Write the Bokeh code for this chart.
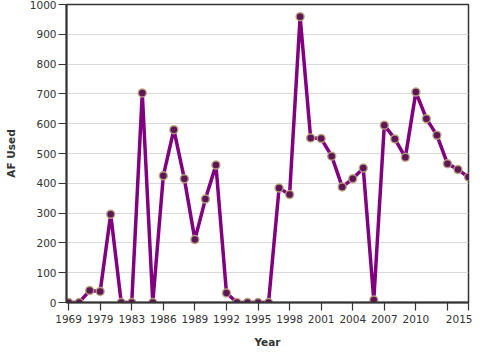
from bokeh.plotting import figure
from bokeh.models import ColumnDataSource, FixedTicker, Range1d
from bokeh.embed import file_html
from bokeh.resources import INLINE

years = [1969, 1972, 1976, 1979, 1980, 1981, 1983, 1984, 1985, 1986, 1987, 1988,
         1989, 1990, 1991, 1992, 1993, 1994, 1995, 1996, 1997, 1998, 1999, 2000,
         2001, 2002, 2003, 2004, 2005, 2006, 2007, 2008, 2009, 2010, 2011, 2012,
         2013, 2014, 2015]
af_used = [0, 0, 40, 37, 296, 0, 0, 703, 0, 425, 580, 415,
           211, 347, 461, 32, 0, 0, 0, 0, 384, 362, 959, 552,
           550, 491, 388, 415, 451, 8, 595, 549, 487, 706, 617, 561,
           466, 446, 421]
y_ticks = [0, 100, 200, 300, 400, 500, 600, 700, 800, 900, 1000]

idx = list(range(len(years)))
src = ColumnDataSource(dict(x=idx, y=af_used, year=years))

p = figure(width=472, height=352, output_backend="svg", toolbar_location=None,
           x_range=Range1d(-0.2, len(years) - 1), y_range=Range1d(0, 1000),
           min_border_left=66, min_border_right=4, min_border_top=4,
           min_border_bottom=50)

p.line("x", "y", source=src, line_color="#800080", line_width=3.5)
p.scatter("x", "y", source=src, size=8, fill_color="#5e1656",
          line_color="#b9a77f", line_width=1.5, line_alpha=0.9)

tick_idx = list(range(0, len(years), 3)) + [len(years) - 1]
p.xaxis.ticker = FixedTicker(ticks=tick_idx)
overrides = {i: str(years[i]) for i in tick_idx}
overrides[36] = ""
p.xaxis.major_label_overrides = overrides
p.yaxis.ticker = FixedTicker(ticks=y_ticks)

p.xaxis.axis_label = "Year"
p.yaxis.axis_label = "AF Used"

for ax in (p.xaxis[0], p.yaxis[0]):
    ax.axis_line_color = "#333333"
    ax.axis_line_width = 2
    ax.major_tick_line_color = "#333333"
    ax.major_tick_line_width = 1.2
    ax.major_tick_out = 8
    ax.major_tick_in = 0
    ax.minor_tick_line_color = None
    ax.major_label_text_font = "DejaVu Sans"
    ax.major_label_text_font_size = "10.5px"
    ax.major_label_text_color = "#333333"
    ax.axis_label_text_font = "DejaVu Sans"
    ax.axis_label_text_font_size = "10.5px"
    ax.axis_label_text_font_style = "bold"
    ax.axis_label_text_color = "#333333"

p.xaxis.major_label_standoff = 4
p.xaxis.axis_label_standoff = 10
p.yaxis.major_label_standoff = 2
p.yaxis.axis_label_standoff = 10

p.xgrid.grid_line_color = None
p.ygrid.grid_line_color = "#d9d9d9"
p.ygrid.grid_line_width = 1

p.outline_line_color = "#333333"
p.outline_line_width = 1.5
p.background_fill_color = "white"
p.border_fill_color = "white"

open("out.html", "w").write(file_html(p, INLINE))
